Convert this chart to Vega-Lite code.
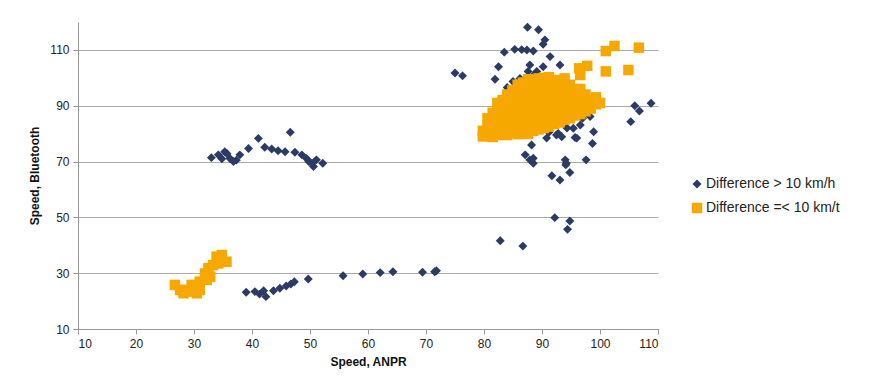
{
  "$schema": "https://vega.github.io/schema/vega-lite/v6.json",
  "width": 580,
  "height": 307,
  "autosize": {"type": "none"},
  "padding": {"left": 78, "top": 22, "right": 220, "bottom": 52},
  "background": "white",
  "config": {
    "font": "Liberation Sans",
    "view": {"stroke": null},
    "axis": {"labelFont": "Liberation Sans", "titleFont": "Liberation Sans", "labelFontSize": 12, "titleFontSize": 12, "titleFontWeight": "bold", "labelColor": "#222", "titleColor": "#111", "domainColor": "#999", "tickColor": "#999", "gridColor": "#aaa", "tickSize": 5}
  },
  "datasets": {
    "pts": [
      {"ANPR": 39.0, "Bluetooth": 23.2, "Group": "Difference > 10 km/h"},
      {"ANPR": 40.5, "Bluetooth": 23.4, "Group": "Difference > 10 km/h"},
      {"ANPR": 41.3, "Bluetooth": 22.5, "Group": "Difference > 10 km/h"},
      {"ANPR": 42.0, "Bluetooth": 23.7, "Group": "Difference > 10 km/h"},
      {"ANPR": 42.4, "Bluetooth": 21.6, "Group": "Difference > 10 km/h"},
      {"ANPR": 43.7, "Bluetooth": 23.7, "Group": "Difference > 10 km/h"},
      {"ANPR": 44.8, "Bluetooth": 24.6, "Group": "Difference > 10 km/h"},
      {"ANPR": 45.9, "Bluetooth": 25.4, "Group": "Difference > 10 km/h"},
      {"ANPR": 46.7, "Bluetooth": 26.1, "Group": "Difference > 10 km/h"},
      {"ANPR": 47.3, "Bluetooth": 26.9, "Group": "Difference > 10 km/h"},
      {"ANPR": 49.7, "Bluetooth": 27.9, "Group": "Difference > 10 km/h"},
      {"ANPR": 55.7, "Bluetooth": 29.1, "Group": "Difference > 10 km/h"},
      {"ANPR": 59.1, "Bluetooth": 29.7, "Group": "Difference > 10 km/h"},
      {"ANPR": 62.1, "Bluetooth": 30.2, "Group": "Difference > 10 km/h"},
      {"ANPR": 64.3, "Bluetooth": 30.5, "Group": "Difference > 10 km/h"},
      {"ANPR": 69.4, "Bluetooth": 30.3, "Group": "Difference > 10 km/h"},
      {"ANPR": 71.5, "Bluetooth": 30.5, "Group": "Difference > 10 km/h"},
      {"ANPR": 71.8, "Bluetooth": 30.9, "Group": "Difference > 10 km/h"},
      {"ANPR": 33.0, "Bluetooth": 71.4, "Group": "Difference > 10 km/h"},
      {"ANPR": 34.2, "Bluetooth": 72.4, "Group": "Difference > 10 km/h"},
      {"ANPR": 34.8, "Bluetooth": 71.0, "Group": "Difference > 10 km/h"},
      {"ANPR": 35.3, "Bluetooth": 73.5, "Group": "Difference > 10 km/h"},
      {"ANPR": 35.7, "Bluetooth": 72.8, "Group": "Difference > 10 km/h"},
      {"ANPR": 36.2, "Bluetooth": 71.1, "Group": "Difference > 10 km/h"},
      {"ANPR": 36.8, "Bluetooth": 70.0, "Group": "Difference > 10 km/h"},
      {"ANPR": 37.3, "Bluetooth": 70.5, "Group": "Difference > 10 km/h"},
      {"ANPR": 37.9, "Bluetooth": 72.4, "Group": "Difference > 10 km/h"},
      {"ANPR": 39.4, "Bluetooth": 74.7, "Group": "Difference > 10 km/h"},
      {"ANPR": 41.1, "Bluetooth": 78.3, "Group": "Difference > 10 km/h"},
      {"ANPR": 42.2, "Bluetooth": 75.1, "Group": "Difference > 10 km/h"},
      {"ANPR": 43.4, "Bluetooth": 74.5, "Group": "Difference > 10 km/h"},
      {"ANPR": 44.5, "Bluetooth": 73.9, "Group": "Difference > 10 km/h"},
      {"ANPR": 45.7, "Bluetooth": 73.5, "Group": "Difference > 10 km/h"},
      {"ANPR": 46.6, "Bluetooth": 80.5, "Group": "Difference > 10 km/h"},
      {"ANPR": 47.4, "Bluetooth": 73.3, "Group": "Difference > 10 km/h"},
      {"ANPR": 48.6, "Bluetooth": 72.4, "Group": "Difference > 10 km/h"},
      {"ANPR": 49.4, "Bluetooth": 71.1, "Group": "Difference > 10 km/h"},
      {"ANPR": 49.8, "Bluetooth": 70.0, "Group": "Difference > 10 km/h"},
      {"ANPR": 50.3, "Bluetooth": 69.4, "Group": "Difference > 10 km/h"},
      {"ANPR": 50.6, "Bluetooth": 68.2, "Group": "Difference > 10 km/h"},
      {"ANPR": 51.1, "Bluetooth": 70.6, "Group": "Difference > 10 km/h"},
      {"ANPR": 52.2, "Bluetooth": 69.4, "Group": "Difference > 10 km/h"},
      {"ANPR": 75.0, "Bluetooth": 101.7, "Group": "Difference > 10 km/h"},
      {"ANPR": 76.3, "Bluetooth": 100.7, "Group": "Difference > 10 km/h"},
      {"ANPR": 87.5, "Bluetooth": 118.1, "Group": "Difference > 10 km/h"},
      {"ANPR": 89.4, "Bluetooth": 117.2, "Group": "Difference > 10 km/h"},
      {"ANPR": 90.5, "Bluetooth": 113.6, "Group": "Difference > 10 km/h"},
      {"ANPR": 90.2, "Bluetooth": 112.0, "Group": "Difference > 10 km/h"},
      {"ANPR": 83.5, "Bluetooth": 109.2, "Group": "Difference > 10 km/h"},
      {"ANPR": 85.3, "Bluetooth": 110.2, "Group": "Difference > 10 km/h"},
      {"ANPR": 86.5, "Bluetooth": 110.1, "Group": "Difference > 10 km/h"},
      {"ANPR": 87.4, "Bluetooth": 110.0, "Group": "Difference > 10 km/h"},
      {"ANPR": 88.5, "Bluetooth": 109.6, "Group": "Difference > 10 km/h"},
      {"ANPR": 82.5, "Bluetooth": 104.0, "Group": "Difference > 10 km/h"},
      {"ANPR": 91.4, "Bluetooth": 107.6, "Group": "Difference > 10 km/h"},
      {"ANPR": 93.1, "Bluetooth": 104.6, "Group": "Difference > 10 km/h"},
      {"ANPR": 87.9, "Bluetooth": 104.6, "Group": "Difference > 10 km/h"},
      {"ANPR": 81.9, "Bluetooth": 99.5, "Group": "Difference > 10 km/h"},
      {"ANPR": 90.2, "Bluetooth": 104.0, "Group": "Difference > 10 km/h"},
      {"ANPR": 85.0, "Bluetooth": 98.7, "Group": "Difference > 10 km/h"},
      {"ANPR": 86.2, "Bluetooth": 99.8, "Group": "Difference > 10 km/h"},
      {"ANPR": 87.6, "Bluetooth": 102.3, "Group": "Difference > 10 km/h"},
      {"ANPR": 89.1, "Bluetooth": 102.3, "Group": "Difference > 10 km/h"},
      {"ANPR": 84.0, "Bluetooth": 96.5, "Group": "Difference > 10 km/h"},
      {"ANPR": 88.6, "Bluetooth": 101.0, "Group": "Difference > 10 km/h"},
      {"ANPR": 106.0, "Bluetooth": 90.0, "Group": "Difference > 10 km/h"},
      {"ANPR": 106.8, "Bluetooth": 88.1, "Group": "Difference > 10 km/h"},
      {"ANPR": 108.8, "Bluetooth": 90.9, "Group": "Difference > 10 km/h"},
      {"ANPR": 105.3, "Bluetooth": 84.3, "Group": "Difference > 10 km/h"},
      {"ANPR": 98.3, "Bluetooth": 86.1, "Group": "Difference > 10 km/h"},
      {"ANPR": 96.6, "Bluetooth": 83.1, "Group": "Difference > 10 km/h"},
      {"ANPR": 98.9, "Bluetooth": 80.7, "Group": "Difference > 10 km/h"},
      {"ANPR": 95.7, "Bluetooth": 78.6, "Group": "Difference > 10 km/h"},
      {"ANPR": 98.7, "Bluetooth": 76.5, "Group": "Difference > 10 km/h"},
      {"ANPR": 95.4, "Bluetooth": 81.9, "Group": "Difference > 10 km/h"},
      {"ANPR": 94.0, "Bluetooth": 70.6, "Group": "Difference > 10 km/h"},
      {"ANPR": 97.6, "Bluetooth": 70.6, "Group": "Difference > 10 km/h"},
      {"ANPR": 92.8, "Bluetooth": 80.1, "Group": "Difference > 10 km/h"},
      {"ANPR": 88.2, "Bluetooth": 75.9, "Group": "Difference > 10 km/h"},
      {"ANPR": 87.1, "Bluetooth": 72.4, "Group": "Difference > 10 km/h"},
      {"ANPR": 88.5, "Bluetooth": 71.2, "Group": "Difference > 10 km/h"},
      {"ANPR": 87.9, "Bluetooth": 70.6, "Group": "Difference > 10 km/h"},
      {"ANPR": 88.5, "Bluetooth": 69.4, "Group": "Difference > 10 km/h"},
      {"ANPR": 90.8, "Bluetooth": 78.4, "Group": "Difference > 10 km/h"},
      {"ANPR": 92.5, "Bluetooth": 79.5, "Group": "Difference > 10 km/h"},
      {"ANPR": 93.4, "Bluetooth": 78.9, "Group": "Difference > 10 km/h"},
      {"ANPR": 96.0, "Bluetooth": 78.4, "Group": "Difference > 10 km/h"},
      {"ANPR": 94.2, "Bluetooth": 69.4, "Group": "Difference > 10 km/h"},
      {"ANPR": 94.1, "Bluetooth": 68.8, "Group": "Difference > 10 km/h"},
      {"ANPR": 94.8, "Bluetooth": 66.1, "Group": "Difference > 10 km/h"},
      {"ANPR": 91.7, "Bluetooth": 64.9, "Group": "Difference > 10 km/h"},
      {"ANPR": 93.1, "Bluetooth": 63.4, "Group": "Difference > 10 km/h"},
      {"ANPR": 92.2, "Bluetooth": 49.9, "Group": "Difference > 10 km/h"},
      {"ANPR": 94.8, "Bluetooth": 48.7, "Group": "Difference > 10 km/h"},
      {"ANPR": 94.4, "Bluetooth": 45.7, "Group": "Difference > 10 km/h"},
      {"ANPR": 82.8, "Bluetooth": 41.6, "Group": "Difference > 10 km/h"},
      {"ANPR": 86.7, "Bluetooth": 39.7, "Group": "Difference > 10 km/h"},
      {"ANPR": 97.0, "Bluetooth": 85.5, "Group": "Difference > 10 km/h"},
      {"ANPR": 94.3, "Bluetooth": 82.0, "Group": "Difference > 10 km/h"},
      {"ANPR": 91.2, "Bluetooth": 80.5, "Group": "Difference > 10 km/h"},
      {"ANPR": 26.7, "Bluetooth": 25.8, "Group": "Difference =< 10 km/t"},
      {"ANPR": 27.6, "Bluetooth": 24.0, "Group": "Difference =< 10 km/t"},
      {"ANPR": 28.2, "Bluetooth": 22.8, "Group": "Difference =< 10 km/t"},
      {"ANPR": 28.7, "Bluetooth": 24.0, "Group": "Difference =< 10 km/t"},
      {"ANPR": 29.6, "Bluetooth": 25.8, "Group": "Difference =< 10 km/t"},
      {"ANPR": 29.9, "Bluetooth": 23.4, "Group": "Difference =< 10 km/t"},
      {"ANPR": 30.5, "Bluetooth": 22.8, "Group": "Difference =< 10 km/t"},
      {"ANPR": 31.0, "Bluetooth": 24.0, "Group": "Difference =< 10 km/t"},
      {"ANPR": 31.0, "Bluetooth": 27.0, "Group": "Difference =< 10 km/t"},
      {"ANPR": 31.9, "Bluetooth": 29.9, "Group": "Difference =< 10 km/t"},
      {"ANPR": 32.2, "Bluetooth": 27.6, "Group": "Difference =< 10 km/t"},
      {"ANPR": 32.5, "Bluetooth": 31.8, "Group": "Difference =< 10 km/t"},
      {"ANPR": 32.8, "Bluetooth": 28.7, "Group": "Difference =< 10 km/t"},
      {"ANPR": 33.3, "Bluetooth": 32.9, "Group": "Difference =< 10 km/t"},
      {"ANPR": 33.9, "Bluetooth": 35.9, "Group": "Difference =< 10 km/t"},
      {"ANPR": 34.2, "Bluetooth": 33.5, "Group": "Difference =< 10 km/t"},
      {"ANPR": 34.8, "Bluetooth": 36.5, "Group": "Difference =< 10 km/t"},
      {"ANPR": 35.6, "Bluetooth": 34.1, "Group": "Difference =< 10 km/t"},
      {"ANPR": 79.8, "Bluetooth": 79.0, "Group": "Difference =< 10 km/t"},
      {"ANPR": 79.8, "Bluetooth": 81.0, "Group": "Difference =< 10 km/t"},
      {"ANPR": 80.6, "Bluetooth": 79.2, "Group": "Difference =< 10 km/t"},
      {"ANPR": 80.6, "Bluetooth": 82.5, "Group": "Difference =< 10 km/t"},
      {"ANPR": 80.6, "Bluetooth": 85.5, "Group": "Difference =< 10 km/t"},
      {"ANPR": 81.5, "Bluetooth": 78.8, "Group": "Difference =< 10 km/t"},
      {"ANPR": 81.5, "Bluetooth": 81.5, "Group": "Difference =< 10 km/t"},
      {"ANPR": 81.5, "Bluetooth": 84.5, "Group": "Difference =< 10 km/t"},
      {"ANPR": 81.5, "Bluetooth": 87.5, "Group": "Difference =< 10 km/t"},
      {"ANPR": 82.3, "Bluetooth": 79.5, "Group": "Difference =< 10 km/t"},
      {"ANPR": 82.3, "Bluetooth": 82.5, "Group": "Difference =< 10 km/t"},
      {"ANPR": 82.3, "Bluetooth": 85.5, "Group": "Difference =< 10 km/t"},
      {"ANPR": 82.3, "Bluetooth": 88.5, "Group": "Difference =< 10 km/t"},
      {"ANPR": 82.3, "Bluetooth": 91.0, "Group": "Difference =< 10 km/t"},
      {"ANPR": 83.2, "Bluetooth": 80.0, "Group": "Difference =< 10 km/t"},
      {"ANPR": 83.2, "Bluetooth": 83.0, "Group": "Difference =< 10 km/t"},
      {"ANPR": 83.2, "Bluetooth": 86.0, "Group": "Difference =< 10 km/t"},
      {"ANPR": 83.2, "Bluetooth": 89.0, "Group": "Difference =< 10 km/t"},
      {"ANPR": 83.2, "Bluetooth": 92.0, "Group": "Difference =< 10 km/t"},
      {"ANPR": 84.0, "Bluetooth": 79.5, "Group": "Difference =< 10 km/t"},
      {"ANPR": 84.0, "Bluetooth": 82.5, "Group": "Difference =< 10 km/t"},
      {"ANPR": 84.0, "Bluetooth": 85.5, "Group": "Difference =< 10 km/t"},
      {"ANPR": 84.0, "Bluetooth": 88.5, "Group": "Difference =< 10 km/t"},
      {"ANPR": 84.0, "Bluetooth": 91.5, "Group": "Difference =< 10 km/t"},
      {"ANPR": 84.0, "Bluetooth": 94.0, "Group": "Difference =< 10 km/t"},
      {"ANPR": 84.9, "Bluetooth": 80.5, "Group": "Difference =< 10 km/t"},
      {"ANPR": 84.9, "Bluetooth": 83.5, "Group": "Difference =< 10 km/t"},
      {"ANPR": 84.9, "Bluetooth": 86.5, "Group": "Difference =< 10 km/t"},
      {"ANPR": 84.9, "Bluetooth": 89.5, "Group": "Difference =< 10 km/t"},
      {"ANPR": 84.9, "Bluetooth": 92.5, "Group": "Difference =< 10 km/t"},
      {"ANPR": 84.9, "Bluetooth": 95.5, "Group": "Difference =< 10 km/t"},
      {"ANPR": 85.8, "Bluetooth": 79.8, "Group": "Difference =< 10 km/t"},
      {"ANPR": 85.8, "Bluetooth": 82.8, "Group": "Difference =< 10 km/t"},
      {"ANPR": 85.8, "Bluetooth": 85.8, "Group": "Difference =< 10 km/t"},
      {"ANPR": 85.8, "Bluetooth": 88.8, "Group": "Difference =< 10 km/t"},
      {"ANPR": 85.8, "Bluetooth": 91.8, "Group": "Difference =< 10 km/t"},
      {"ANPR": 85.8, "Bluetooth": 94.8, "Group": "Difference =< 10 km/t"},
      {"ANPR": 85.8, "Bluetooth": 97.5, "Group": "Difference =< 10 km/t"},
      {"ANPR": 86.7, "Bluetooth": 80.3, "Group": "Difference =< 10 km/t"},
      {"ANPR": 86.7, "Bluetooth": 83.3, "Group": "Difference =< 10 km/t"},
      {"ANPR": 86.7, "Bluetooth": 86.3, "Group": "Difference =< 10 km/t"},
      {"ANPR": 86.7, "Bluetooth": 89.3, "Group": "Difference =< 10 km/t"},
      {"ANPR": 86.7, "Bluetooth": 92.3, "Group": "Difference =< 10 km/t"},
      {"ANPR": 86.7, "Bluetooth": 95.3, "Group": "Difference =< 10 km/t"},
      {"ANPR": 86.7, "Bluetooth": 98.3, "Group": "Difference =< 10 km/t"},
      {"ANPR": 87.6, "Bluetooth": 79.9, "Group": "Difference =< 10 km/t"},
      {"ANPR": 87.6, "Bluetooth": 82.9, "Group": "Difference =< 10 km/t"},
      {"ANPR": 87.6, "Bluetooth": 85.9, "Group": "Difference =< 10 km/t"},
      {"ANPR": 87.6, "Bluetooth": 88.9, "Group": "Difference =< 10 km/t"},
      {"ANPR": 87.6, "Bluetooth": 91.9, "Group": "Difference =< 10 km/t"},
      {"ANPR": 87.6, "Bluetooth": 94.9, "Group": "Difference =< 10 km/t"},
      {"ANPR": 87.6, "Bluetooth": 97.9, "Group": "Difference =< 10 km/t"},
      {"ANPR": 87.6, "Bluetooth": 99.5, "Group": "Difference =< 10 km/t"},
      {"ANPR": 88.5, "Bluetooth": 81.0, "Group": "Difference =< 10 km/t"},
      {"ANPR": 88.5, "Bluetooth": 84.0, "Group": "Difference =< 10 km/t"},
      {"ANPR": 88.5, "Bluetooth": 87.0, "Group": "Difference =< 10 km/t"},
      {"ANPR": 88.5, "Bluetooth": 90.0, "Group": "Difference =< 10 km/t"},
      {"ANPR": 88.5, "Bluetooth": 93.0, "Group": "Difference =< 10 km/t"},
      {"ANPR": 88.5, "Bluetooth": 96.0, "Group": "Difference =< 10 km/t"},
      {"ANPR": 88.5, "Bluetooth": 99.0, "Group": "Difference =< 10 km/t"},
      {"ANPR": 89.4, "Bluetooth": 81.5, "Group": "Difference =< 10 km/t"},
      {"ANPR": 89.4, "Bluetooth": 84.5, "Group": "Difference =< 10 km/t"},
      {"ANPR": 89.4, "Bluetooth": 87.5, "Group": "Difference =< 10 km/t"},
      {"ANPR": 89.4, "Bluetooth": 90.5, "Group": "Difference =< 10 km/t"},
      {"ANPR": 89.4, "Bluetooth": 93.5, "Group": "Difference =< 10 km/t"},
      {"ANPR": 89.4, "Bluetooth": 96.5, "Group": "Difference =< 10 km/t"},
      {"ANPR": 89.4, "Bluetooth": 99.8, "Group": "Difference =< 10 km/t"},
      {"ANPR": 90.3, "Bluetooth": 82.0, "Group": "Difference =< 10 km/t"},
      {"ANPR": 90.3, "Bluetooth": 85.0, "Group": "Difference =< 10 km/t"},
      {"ANPR": 90.3, "Bluetooth": 88.0, "Group": "Difference =< 10 km/t"},
      {"ANPR": 90.3, "Bluetooth": 91.0, "Group": "Difference =< 10 km/t"},
      {"ANPR": 90.3, "Bluetooth": 94.0, "Group": "Difference =< 10 km/t"},
      {"ANPR": 90.3, "Bluetooth": 97.0, "Group": "Difference =< 10 km/t"},
      {"ANPR": 90.3, "Bluetooth": 100.0, "Group": "Difference =< 10 km/t"},
      {"ANPR": 91.2, "Bluetooth": 82.5, "Group": "Difference =< 10 km/t"},
      {"ANPR": 91.2, "Bluetooth": 85.5, "Group": "Difference =< 10 km/t"},
      {"ANPR": 91.2, "Bluetooth": 88.5, "Group": "Difference =< 10 km/t"},
      {"ANPR": 91.2, "Bluetooth": 91.5, "Group": "Difference =< 10 km/t"},
      {"ANPR": 91.2, "Bluetooth": 94.5, "Group": "Difference =< 10 km/t"},
      {"ANPR": 91.2, "Bluetooth": 97.5, "Group": "Difference =< 10 km/t"},
      {"ANPR": 91.2, "Bluetooth": 100.2, "Group": "Difference =< 10 km/t"},
      {"ANPR": 92.1, "Bluetooth": 83.5, "Group": "Difference =< 10 km/t"},
      {"ANPR": 92.1, "Bluetooth": 86.5, "Group": "Difference =< 10 km/t"},
      {"ANPR": 92.1, "Bluetooth": 89.5, "Group": "Difference =< 10 km/t"},
      {"ANPR": 92.1, "Bluetooth": 92.5, "Group": "Difference =< 10 km/t"},
      {"ANPR": 92.1, "Bluetooth": 95.5, "Group": "Difference =< 10 km/t"},
      {"ANPR": 92.1, "Bluetooth": 98.5, "Group": "Difference =< 10 km/t"},
      {"ANPR": 93.0, "Bluetooth": 84.0, "Group": "Difference =< 10 km/t"},
      {"ANPR": 93.0, "Bluetooth": 87.0, "Group": "Difference =< 10 km/t"},
      {"ANPR": 93.0, "Bluetooth": 90.0, "Group": "Difference =< 10 km/t"},
      {"ANPR": 93.0, "Bluetooth": 93.0, "Group": "Difference =< 10 km/t"},
      {"ANPR": 93.0, "Bluetooth": 96.0, "Group": "Difference =< 10 km/t"},
      {"ANPR": 93.0, "Bluetooth": 99.2, "Group": "Difference =< 10 km/t"},
      {"ANPR": 93.9, "Bluetooth": 85.0, "Group": "Difference =< 10 km/t"},
      {"ANPR": 93.9, "Bluetooth": 88.0, "Group": "Difference =< 10 km/t"},
      {"ANPR": 93.9, "Bluetooth": 91.0, "Group": "Difference =< 10 km/t"},
      {"ANPR": 93.9, "Bluetooth": 94.0, "Group": "Difference =< 10 km/t"},
      {"ANPR": 93.9, "Bluetooth": 97.0, "Group": "Difference =< 10 km/t"},
      {"ANPR": 93.9, "Bluetooth": 99.8, "Group": "Difference =< 10 km/t"},
      {"ANPR": 94.8, "Bluetooth": 85.5, "Group": "Difference =< 10 km/t"},
      {"ANPR": 94.8, "Bluetooth": 88.5, "Group": "Difference =< 10 km/t"},
      {"ANPR": 94.8, "Bluetooth": 91.5, "Group": "Difference =< 10 km/t"},
      {"ANPR": 94.8, "Bluetooth": 94.5, "Group": "Difference =< 10 km/t"},
      {"ANPR": 94.8, "Bluetooth": 97.5, "Group": "Difference =< 10 km/t"},
      {"ANPR": 95.7, "Bluetooth": 86.5, "Group": "Difference =< 10 km/t"},
      {"ANPR": 95.7, "Bluetooth": 89.5, "Group": "Difference =< 10 km/t"},
      {"ANPR": 95.7, "Bluetooth": 92.5, "Group": "Difference =< 10 km/t"},
      {"ANPR": 95.7, "Bluetooth": 95.5, "Group": "Difference =< 10 km/t"},
      {"ANPR": 96.6, "Bluetooth": 87.0, "Group": "Difference =< 10 km/t"},
      {"ANPR": 96.6, "Bluetooth": 90.0, "Group": "Difference =< 10 km/t"},
      {"ANPR": 96.6, "Bluetooth": 93.0, "Group": "Difference =< 10 km/t"},
      {"ANPR": 96.6, "Bluetooth": 96.0, "Group": "Difference =< 10 km/t"},
      {"ANPR": 97.5, "Bluetooth": 88.0, "Group": "Difference =< 10 km/t"},
      {"ANPR": 97.5, "Bluetooth": 91.0, "Group": "Difference =< 10 km/t"},
      {"ANPR": 97.5, "Bluetooth": 94.0, "Group": "Difference =< 10 km/t"},
      {"ANPR": 98.4, "Bluetooth": 89.0, "Group": "Difference =< 10 km/t"},
      {"ANPR": 98.4, "Bluetooth": 92.0, "Group": "Difference =< 10 km/t"},
      {"ANPR": 99.3, "Bluetooth": 90.5, "Group": "Difference =< 10 km/t"},
      {"ANPR": 99.3, "Bluetooth": 93.0, "Group": "Difference =< 10 km/t"},
      {"ANPR": 100.0, "Bluetooth": 91.0, "Group": "Difference =< 10 km/t"},
      {"ANPR": 96.4, "Bluetooth": 103.4, "Group": "Difference =< 10 km/t"},
      {"ANPR": 97.8, "Bluetooth": 104.3, "Group": "Difference =< 10 km/t"},
      {"ANPR": 96.6, "Bluetooth": 101.0, "Group": "Difference =< 10 km/t"},
      {"ANPR": 101.0, "Bluetooth": 109.6, "Group": "Difference =< 10 km/t"},
      {"ANPR": 102.5, "Bluetooth": 111.4, "Group": "Difference =< 10 km/t"},
      {"ANPR": 106.7, "Bluetooth": 110.8, "Group": "Difference =< 10 km/t"},
      {"ANPR": 101.0, "Bluetooth": 102.3, "Group": "Difference =< 10 km/t"},
      {"ANPR": 104.9, "Bluetooth": 102.8, "Group": "Difference =< 10 km/t"}
    ]
  },
  "data": {"name": "pts"},
  "mark": {"type": "point", "filled": true, "opacity": 1, "size": 100},
  "encoding": {
    "x": {"field": "ANPR", "type": "quantitative", "title": "Speed, ANPR",
      "scale": {"domain": [10, 110], "nice": false, "zero": false},
      "axis": {"values": [10, 20, 30, 40, 50, 60, 70, 80, 90, 100, 110], "grid": false, "labelPadding": 4, "titlePadding": 7}},
    "y": {"field": "Bluetooth", "type": "quantitative", "title": "Speed, Bluetooth",
      "scale": {"domain": [10, 120], "nice": false, "zero": false},
      "axis": {"values": [10, 30, 50, 70, 90, 110], "grid": true, "labelPadding": 4, "titlePadding": 8}},
    "color": {"field": "Group", "type": "nominal",
      "scale": {"domain": ["Difference > 10 km/h", "Difference =< 10 km/t"], "range": ["#2C3B63", "#F7A800"]},
      "legend": {"title": null, "orient": "none", "legendX": 612, "legendY": 155, "labelFontSize": 14, "labelColor": "#222", "labelFont": "Liberation Sans", "rowPadding": 10, "labelOffset": 2, "symbolSize": 80}},
    "shape": {"field": "Group", "type": "nominal",
      "scale": {"domain": ["Difference > 10 km/h", "Difference =< 10 km/t"], "range": ["diamond", "square"]}},
    "size": {"field": "Group", "type": "nominal",
      "scale": {"domain": ["Difference > 10 km/h", "Difference =< 10 km/t"], "range": [80, 110]}, "legend": null}
  }
}
